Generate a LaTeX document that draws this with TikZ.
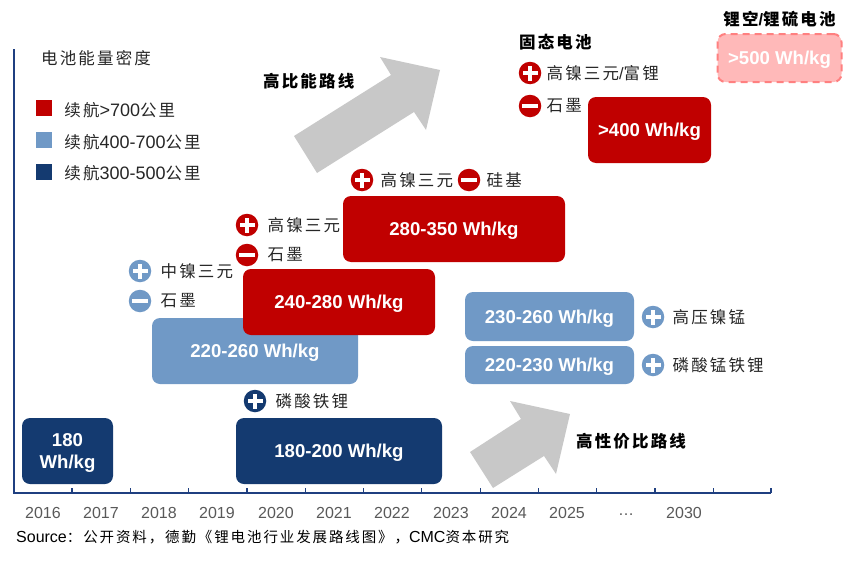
\documentclass[tikz,border=0pt]{standalone}
\usepackage{fontspec}
\setmainfont{Liberation Sans}
\newfontfamily\cjk[LetterSpace=13]{Noto Sans CJK SC}
\usepackage{tikz}
\usetikzlibrary{positioning}

\definecolor{rangered}{HTML}{C00000}
\definecolor{rangeblue}{HTML}{7099C6}
\definecolor{rangenavy}{HTML}{143A70}
\definecolor{arrowgrey}{HTML}{C8C8C8}
\definecolor{futurefill}{HTML}{FFB9B9}
\definecolor{futureline}{HTML}{FF8080}
\definecolor{axisblue}{HTML}{1F3F80}

\newcommand{\latinrun}[1]{{\fontsize{18}{18}\selectfont\rmfamily #1}}

\begin{document}
\begin{tikzpicture}[
	x=1pt,
	y=-1pt,
	stagebox/.style={
		rounded corners=8pt,
		fill=#1,
		text=white,
		inner sep=0pt,
		align=center,
		text depth=0pt,
		font=\fontsize{18.6}{22}\selectfont\bfseries
	},
	legendbox/.style={
		fill=#1,
		minimum size=16pt,
		inner sep=0pt
	},
	plusicon/.style={
		circle,
		fill=#1,
		minimum size=22.5pt,
		inner sep=0pt,
		path picture={
			\fill[white] (path picture bounding box.center) ++(-7.5,-1.7) rectangle ++(15,3.4);
			\fill[white] (path picture bounding box.center) ++(-1.7,-7.5) rectangle ++(3.4,15);
		}
	},
	minusicon/.style={
		circle,
		fill=#1,
		minimum size=22.5pt,
		inner sep=0pt,
		path picture={
			\fill[white] (path picture bounding box.center) ++(-8,-1.7) rectangle ++(16,3.4);
		}
	},
	tag/.style={
		inner sep=0pt,
		anchor=west,
		text=black!85,
		font=\fontsize{16.5}{18}\selectfont\cjk
	},
	headtag/.style={
		inner sep=0pt,
		anchor=west,
		text=black,
		font=\fontsize{16.5}{18}\selectfont\bfseries\cjk
	},
	sourcetag/.style={
		inner sep=0pt,
		anchor=west,
		text=black,
		font=\fontsize{16}{18}\selectfont
	},
	yeartag/.style={
		inner sep=0pt,
		text=black!65,
		font=\fontsize{16}{18}\selectfont
	},
	routearrow/.style={
		fill=arrowgrey
	},
	axisline/.style={
		draw=axisblue,
		line width=1.2pt
	}
	]
	\useasboundingbox (0,0) rectangle (865,562);
	
	%%%%%%%%%%%%%%%%%%%%%%%%%%%%%%%%%%%%%%%%%%%%%%%%%%%%%%
	% Axes
	%%%%%%%%%%%%%%%%%%%%%%%%%%%%%%%%%%%%%%%%%%%%%%%%%%%%%%
	
	\coordinate (axistop) at (14,49);
	\coordinate (origin) at (14,493);
	\coordinate (axisend) at (771,493);
	
	\draw[axisline] (axistop) -- (origin) -- (axisend);
	
	\foreach \tick in {72,130.3,188.6,246.9,305.2,363.5,421.8,480.1,538.4,596.7,655,713.3,771}
	\draw[axisline] (\tick,493) -- (\tick,488);
	
	\foreach \yr/\xpos in {2016/43,2017/101,2018/159,2019/217,2020/276,2021/334,2022/392,2023/451,2024/509,2025/567,2030/684}
	\node (year\yr) [yeartag] at (\xpos,512.5) {\yr};
	
	\node (yearskip) [yeartag] at (626,515) {…};
	
	%%%%%%%%%%%%%%%%%%%%%%%%%%%%%%%%%%%%%%%%%%%%%%%%%%%%%%
	% Legend
	%%%%%%%%%%%%%%%%%%%%%%%%%%%%%%%%%%%%%%%%%%%%%%%%%%%%%%
	
	\node (unit) [tag] at (41,58) {电池能量密度};
	
	\node (legendred) [legendbox=rangered] at (44,108) {};
	\node (legendblue) [legendbox=rangeblue] at (44,140) {};
	\node (legendnavy) [legendbox=rangenavy] at (44,172) {};
	
	\node (textred) [tag,right=12pt of legendred,yshift=-2pt] {续航\latinrun{>700}公里};
	\node (textblue) [tag,right=12pt of legendblue,yshift=-2pt] {续航\latinrun{400-700}公里};
	\node (textnavy) [tag,right=12pt of legendnavy,yshift=-1pt] {续航\latinrun{300-500}公里};
	
	%%%%%%%%%%%%%%%%%%%%%%%%%%%%%%%%%%%%%%%%%%%%%%%%%%%%%%
	% Route arrows
	%%%%%%%%%%%%%%%%%%%%%%%%%%%%%%%%%%%%%%%%%%%%%%%%%%%%%%
	
	\fill[routearrow] (294,136) -- (317,173) -- (414,112) -- (426,130) -- (440,70) -- (380,57) -- (391,75) -- cycle;
	\fill[routearrow] (470,452) -- (493,488) -- (544,456) -- (556,474) -- (570,414) -- (510,401) -- (521,419) -- cycle;
	
	\node (energyroute) [headtag] at (263,81) {高比能路线};
	\node (costroute) [headtag] at (576,441) {高性价比路线};
	
	%%%%%%%%%%%%%%%%%%%%%%%%%%%%%%%%%%%%%%%%%%%%%%%%%%%%%%
	% Stage boxes
	%%%%%%%%%%%%%%%%%%%%%%%%%%%%%%%%%%%%%%%%%%%%%%%%%%%%%%
	
	\node (start) [stagebox=rangenavy,minimum width=91pt,minimum height=66pt] at (67.5,451) {180\\Wh/kg};
	\node (lfp) [stagebox=rangenavy,minimum width=206pt,minimum height=66pt] at (339,451) {180-200 Wh/kg};
	\node (ncmmid) [stagebox=rangeblue,minimum width=206pt,minimum height=66pt] at (255,351) {220-260 Wh/kg};
	\node (ncmhigh) [stagebox=rangered,minimum width=192pt,minimum height=66pt] at (339,302) {240-280 Wh/kg};
	\node (silicon) [stagebox=rangered,minimum width=222pt,minimum height=66pt] at (454,229) {280-350 Wh/kg};
	\node (solid) [stagebox=rangered,minimum width=123pt,minimum height=66pt] at (649.5,130) {>400 Wh/kg};
	\node (future) [stagebox=futurefill,draw=futureline,line width=2pt,dash pattern=on 7pt off 5pt,minimum width=124pt,minimum height=48pt] at (779.5,58) {>500 Wh/kg};
	\node (lnmo) [stagebox=rangeblue,minimum width=169pt,minimum height=49pt] at (549.5,316.5) {230-260 Wh/kg};
	\node (lmfp) [stagebox=rangeblue,minimum width=169pt,minimum height=38pt] at (549.5,365) {220-230 Wh/kg};
	
	%%%%%%%%%%%%%%%%%%%%%%%%%%%%%%%%%%%%%%%%%%%%%%%%%%%%%%
	% Material tags
	%%%%%%%%%%%%%%%%%%%%%%%%%%%%%%%%%%%%%%%%%%%%%%%%%%%%%%
	
	\node (plusmid) [plusicon=rangeblue] at (140,271) {};
	\node (tagmid) [tag,right=9pt of plusmid] {中镍三元};
	\node (minusmid) [minusicon=rangeblue] at (140,301) {};
	\node (tagmidg) [tag,right=9pt of minusmid] {石墨};
	
	\node (plushigh) [plusicon=rangered] at (247,225) {};
	\node (taghigh) [tag,right=9pt of plushigh] {高镍三元};
	\node (minushigh) [minusicon=rangered] at (247,255) {};
	\node (taghighg) [tag,right=9pt of minushigh] {石墨};
	
	\node (plussil) [plusicon=rangered] at (362,180) {};
	\node (tagsil) [tag,right=7pt of plussil] {高镍三元};
	\node (minussil) [minusicon=rangered] at (469,180) {};
	\node (tagsilb) [tag,right=6pt of minussil] {硅基};
	
	\node (solidhead) [headtag] at (519,42) {固态电池};
	\node (plussolid) [plusicon=rangered] at (530,73) {};
	\node (tagsolid) [tag,right=5pt of plussolid] {高镍三元{\rmfamily /}富锂};
	\node (minussolid) [minusicon=rangered] at (530,106) {};
	\node (tagsolidg) [tag,right=5pt of minussolid] {石墨};
	
	\node (futurehead) [headtag,above=6pt of future.north,anchor=south] {锂空{\rmfamily /}锂硫电池};
	
	\node (pluslfp) [plusicon=rangenavy] at (255,401) {};
	\node (taglfp) [tag,right=9pt of pluslfp] {磷酸铁锂};
	
	\node (pluslnmo) [plusicon=rangeblue] at (653,317) {};
	\node (taglnmo) [tag,right=8pt of pluslnmo] {高压镍锰};
	\node (pluslmfp) [plusicon=rangeblue] at (653,365) {};
	\node (taglmfp) [tag,right=8pt of pluslmfp] {磷酸锰铁锂};
	
	%%%%%%%%%%%%%%%%%%%%%%%%%%%%%%%%%%%%%%%%%%%%%%%%%%%%%%
	% Source line
	%%%%%%%%%%%%%%%%%%%%%%%%%%%%%%%%%%%%%%%%%%%%%%%%%%%%%%
	
	\node (source) [sourcetag] at (16,537) {Source{\fontsize{14.5}{18}\selectfont\cjk：公开资料，德勤《锂电池行业发展路线图》，}CMC{\fontsize{14.5}{18}\selectfont\cjk 资本研究}};
	
\end{tikzpicture}
\end{document}
